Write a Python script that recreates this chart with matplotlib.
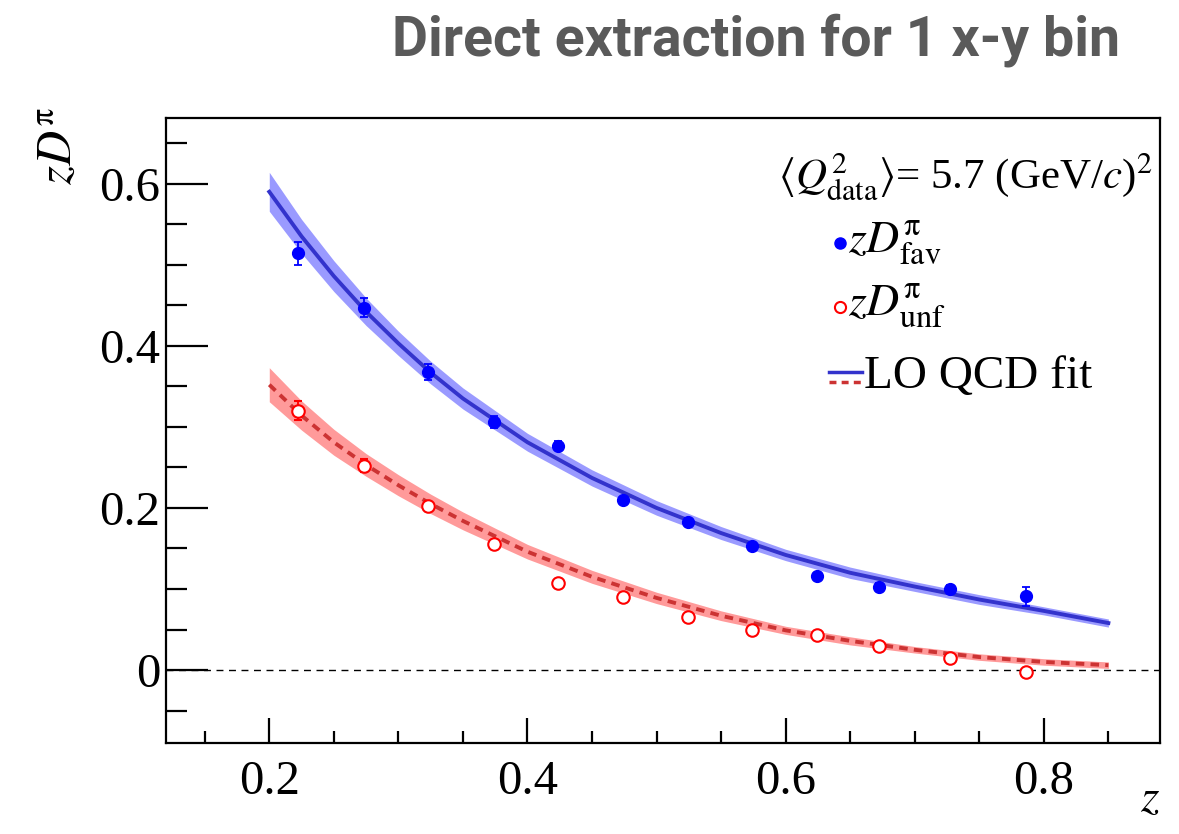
import matplotlib
matplotlib.use("Agg")
import matplotlib.pyplot as plt
from matplotlib.ticker import MultipleLocator

# measured points (one x-y bin)
Z = [0.2225, 0.273, 0.323, 0.374, 0.424, 0.474, 0.524, 0.574, 0.624, 0.672, 0.727, 0.786]
FAV = [0.514, 0.447, 0.368, 0.306, 0.277, 0.210, 0.183, 0.153, 0.116, 0.103, 0.100, 0.091]
FAV_ERR = [0.014, 0.012, 0.010, 0.007, 0.006, 0.004, 0.004, 0.004, 0.003, 0.004, 0.005, 0.012]
UNF = [0.320, 0.252, 0.202, 0.155, 0.107, 0.090, 0.065, 0.050, 0.043, 0.030, 0.015, -0.003]
UNF_ERR = [0.012, 0.008, 0.006, 0.005, 0.004, 0.004, 0.004, 0.003, 0.003, 0.003, 0.004, 0.005]

# LO QCD fit
FIT_Z = [0.20, 0.225, 0.25, 0.275, 0.30, 0.325, 0.35, 0.40, 0.45, 0.50, 0.55, 0.60, 0.65,
         0.70, 0.75, 0.80, 0.85]
FIT_FAV = [0.590, 0.535, 0.486, 0.442, 0.403, 0.367, 0.335, 0.281, 0.237, 0.200, 0.169,
           0.142, 0.120, 0.103, 0.087, 0.073, 0.058]
FIT_FAV_BAND = [0.024, 0.021, 0.019, 0.017, 0.015, 0.014, 0.013, 0.011, 0.010, 0.009, 0.008,
                0.007, 0.007, 0.006, 0.006, 0.005, 0.005]
FIT_UNF = [0.352, 0.314, 0.281, 0.253, 0.228, 0.205, 0.184, 0.146, 0.115, 0.089, 0.067,
           0.049, 0.036, 0.025, 0.016, 0.010, 0.006]
FIT_UNF_BAND = [0.021, 0.018, 0.016, 0.014, 0.013, 0.012, 0.011, 0.009, 0.008, 0.007, 0.006,
                0.005, 0.005, 0.004, 0.004, 0.004, 0.004]

X_TICKS = [0.2, 0.4, 0.6, 0.8]
X_TICKLABELS = ["0.2", "0.4", "0.6", "0.8"]
Y_TICKS = [0.0, 0.2, 0.4, 0.6]
Y_TICKLABELS = ["0", "0.2", "0.4", "0.6"]

plt.rcParams['font.family'] = ['Liberation Serif', 'DejaVu Serif']
plt.rcParams['mathtext.fontset'] = 'stix'

fig = plt.figure(figsize=(11.79, 8.34), dpi=100)
ax = fig.add_axes([0.1408, 0.1091, 0.8431, 0.7494])

# uncertainty bands + fit curves
lo_f = [v - b for v, b in zip(FIT_FAV, FIT_FAV_BAND)]
hi_f = [v + b for v, b in zip(FIT_FAV, FIT_FAV_BAND)]
lo_u = [v - b for v, b in zip(FIT_UNF, FIT_UNF_BAND)]
hi_u = [v + b for v, b in zip(FIT_UNF, FIT_UNF_BAND)]
ax.fill_between(FIT_Z, lo_f, hi_f, color='#9a9aff', lw=0)
ax.fill_between(FIT_Z, lo_u, hi_u, color='#ff9a9a', lw=0)
ax.plot(FIT_Z, FIT_FAV, '-', color='#3333cc', lw=2.8, solid_joinstyle='round')
ax.plot(FIT_Z, FIT_UNF, color='#cc3333', lw=2.8, linestyle=(0, (2.2, 1.6)))

ax.axhline(0, color='black', lw=1.0, linestyle=(0, (5, 4)))

ax.errorbar(Z, FAV, yerr=FAV_ERR, fmt='o', color='#0000ff', ms=8.5,
            elinewidth=1.3, capsize=3, capthick=1.3, zorder=5)
ax.errorbar(Z, UNF, yerr=UNF_ERR, fmt='o', color='#ff0000', mfc='white', ms=9,
            mew=1.5, elinewidth=1.3, capsize=3, capthick=1.3, zorder=5)

ax.set_xlim(0.12, 0.89)
ax.set_ylim(-0.09, 0.681)
ax.set_xticks(X_TICKS)
ax.set_xticklabels(X_TICKLABELS)
ax.set_yticks(Y_TICKS)
ax.set_yticklabels(Y_TICKLABELS)
ax.xaxis.set_minor_locator(MultipleLocator(0.05))
ax.yaxis.set_minor_locator(MultipleLocator(0.05))
ax.tick_params(which='both', direction='in', top=False, right=False, width=1.6, labelsize=35)
ax.tick_params(axis='x', which='major', length=18, pad=12)
ax.tick_params(axis='x', which='minor', length=9)
ax.tick_params(axis='y', which='major', length=30, pad=4)
ax.tick_params(axis='y', which='minor', length=15)
for sp in ax.spines.values():
    sp.set_linewidth(1.6)

# axis titles, ROOT style
fig.text(0.050, 0.825, r'$zD^{\mathrm{\pi}}$', rotation=90, fontsize=35, ha='center', va='center')
fig.text(0.975, 0.015, r'$z$', fontsize=34, ha='center', va='bottom')

# legend drawn by hand
ax.text(0.993, 0.905, r'$\langle Q^2_{\mathrm{data}}\rangle$= 5.7 (GeV/$c$)$^2$',
        transform=ax.transAxes, ha='right', va='center', fontsize=31)
ax.plot([0.678], [0.80], 'o', color='#0000ff', ms=8, transform=ax.transAxes, clip_on=False)
ax.text(0.686, 0.80, r'$zD^{\mathrm{\pi}}_{\mathrm{fav}}$', transform=ax.transAxes,
        ha='left', va='center', fontsize=33)
ax.plot([0.678], [0.698], 'o', color='#ff0000', mfc='white', mew=1.5, ms=8,
        transform=ax.transAxes, clip_on=False)
ax.text(0.686, 0.698, r'$zD^{\mathrm{\pi}}_{\mathrm{unf}}$', transform=ax.transAxes,
        ha='left', va='center', fontsize=33)
ax.plot([0.667, 0.700], [0.594, 0.594], '-', color='#3333cc', lw=2.5, transform=ax.transAxes)
ax.plot([0.667, 0.700], [0.578, 0.578], color='#cc3333', lw=2.5, linestyle=(0, (2, 1.5)),
        transform=ax.transAxes)
ax.text(0.702, 0.586, 'LO QCD fit', transform=ax.transAxes, ha='left', va='center', fontsize=34)

fig.text(0.95, 0.952, 'Direct extraction for 1 x-y bin', ha='right', va='center',
         fontsize=40, color='#5a5a5a', family=['Roboto'], weight='bold')

fig.savefig('out.png', dpi=100)
